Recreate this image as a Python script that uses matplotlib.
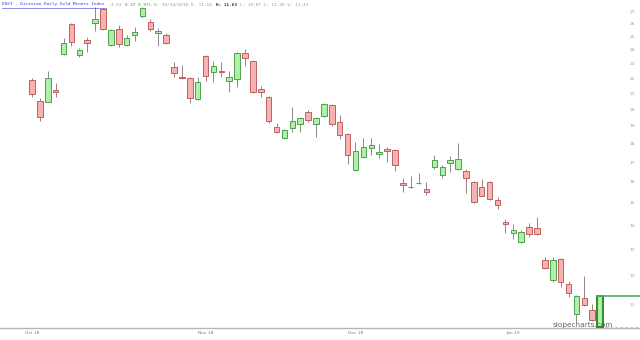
import numpy as np
import matplotlib.pyplot as plt
from matplotlib.lines import Line2D
from matplotlib.ticker import NullLocator

# daily OHLC (oldest first)
opens = [21.87, 20.50, 20.44, 21.21, 23.69, 25.97, 23.61, 24.72, 26.05, 27.19,
         24.35, 25.57, 24.35, 25.10, 26.60, 26.12, 25.26, 25.10, 22.76, 22.07,
         22.00, 20.60, 23.54, 22.41, 22.45, 21.80, 21.94, 23.76, 23.18, 21.27,
         20.76, 18.93, 18.30, 18.87, 19.11, 19.82, 19.11, 19.58, 20.25, 19.22,
         18.53, 16.59, 17.27, 17.75, 17.43, 17.70, 17.64, 15.94, 15.77, 15.96,
         15.65, 16.75, 16.34, 16.95, 16.64, 16.54, 16.00, 15.75, 16.00, 15.13,
         14.15, 13.68, 13.31, 13.93, 13.89, 12.59, 11.84, 12.63, 11.70, 10.67,
         11.20, 10.80, 10.25]
highs = [22.00, 20.69, 22.48, 21.67, 24.87, 26.05, 24.13, 24.95, 27.36, 27.27,
         25.57, 25.89, 25.10, 25.73, 27.36, 26.37, 25.65, 25.26, 23.11, 22.90,
         22.07, 22.07, 23.61, 23.18, 23.11, 22.48, 23.80, 24.05, 23.25, 21.47,
         20.85, 19.17, 18.80, 20.13, 19.50, 19.95, 19.50, 20.35, 20.30, 19.64,
         18.58, 18.08, 18.30, 18.30, 17.97, 17.81, 17.70, 16.19, 16.29, 16.44,
         16.00, 17.37, 16.85, 17.32, 18.03, 16.64, 16.05, 16.14, 16.05, 15.27,
         14.28, 14.06, 13.80, 14.10, 14.37, 12.71, 12.71, 12.66, 11.80, 11.30,
         12.00, 11.00, 11.30]
lows = [20.76, 19.28, 20.44, 20.76, 23.61, 24.27, 23.47, 23.84, 25.41, 25.49,
        24.27, 24.20, 24.27, 24.65, 26.45, 25.41, 24.27, 24.42, 22.07, 21.94,
        20.38, 20.57, 21.80, 21.73, 22.07, 21.08, 21.40, 22.83, 21.00, 20.76,
        19.17, 18.59, 18.25, 18.64, 18.64, 19.22, 18.36, 19.52, 18.99, 18.25,
        16.90, 16.55, 17.22, 17.37, 17.22, 17.00, 16.54, 15.51, 15.70, 15.89,
        15.37, 16.64, 16.19, 16.49, 16.60, 15.46, 14.99, 15.30, 15.15, 14.72,
        13.68, 13.43, 13.27, 13.50, 13.60, 12.25, 11.77, 11.59, 11.24, 10.41,
        10.95, 10.45, 10.10]
closes = [20.95, 19.52, 22.00, 21.08, 24.50, 24.57, 23.98, 24.50, 26.37, 25.57,
          25.49, 24.42, 24.87, 25.33, 27.27, 25.57, 25.41, 24.50, 22.34, 22.00,
          20.69, 21.73, 22.14, 22.83, 22.41, 22.07, 23.76, 23.40, 21.08, 21.08,
          19.28, 18.64, 18.76, 19.28, 19.46, 19.34, 19.46, 20.31, 19.11, 18.47,
          17.37, 17.59, 17.81, 17.92, 17.54, 17.59, 16.85, 15.84, 15.75, 15.94,
          15.51, 17.11, 16.75, 17.11, 17.16, 16.19, 15.04, 15.32, 15.18, 14.90,
          14.06, 13.80, 13.72, 13.63, 13.63, 12.28, 12.59, 11.77, 11.37, 11.27,
          10.97, 10.48, 11.28]

month_pos = [0, 22, 41, 61]
month_labels = ["Oct 18", "Nov 18", "Dec 18", "Jan 19"]
price_ticks = list(range(11, 28))

up_fill, up_edge = '#aef0a6', '#4f9f4f'
dn_fill, dn_edge = '#f5b2b0', '#c06060'

fig = plt.figure(figsize=(6.4, 3.4), dpi=100)
ax = fig.add_axes([0, 12/340, 1, 328/340])
ax.set_yscale('log')
ax.set_ylim(10.22, 27.95)
step = 7.89
ax.set_xlim(-32/step, (640-32)/step)

n = len(opens)
x = np.arange(n)
o = np.array(opens); h = np.array(highs); l = np.array(lows); c = np.array(closes)
up = c >= o

for i in range(n - 1):
    fill = up_fill if up[i] else dn_fill
    edge = up_edge if up[i] else dn_edge
    ax.vlines(x[i], l[i], h[i], color='#8a8a8a' if up[i] else '#a08080', lw=0.7, zorder=1)
    lo, hi = min(o[i], c[i]), max(o[i], c[i])
    ax.bar(x[i], max(hi - lo, 0.02), bottom=lo, width=0.7, color=fill,
           edgecolor=edge, linewidth=0.7, zorder=2)

# live candle
k = n - 1
ax.vlines(x[k], l[k], h[k], color=up_edge, lw=0.8, zorder=1)
ax.bar(x[k], c[k] - o[k], bottom=o[k], width=0.7, color=up_fill,
       edgecolor='#2f8a2f', linewidth=1.4, zorder=3)
ax.plot([x[k] - 0.35, 80], [c[k], c[k]], color='#4fb04f', lw=1.2, zorder=3)
ax.plot([x[k], 80], [o[k], o[k]], color='#a8d0a8', lw=0.6, ls=(0, (3, 3)), zorder=1)

ax.yaxis.set_minor_locator(NullLocator())
ax.set_yticks(price_ticks, [str(t) for t in price_ticks])
ax.yaxis.tick_right()
ax.tick_params(axis='y', length=0, pad=-7.6, labelsize=3.2, labelcolor='#9a9aaa')
ax.set_xticks(month_pos, month_labels)
ax.tick_params(axis='x', length=0, pad=2.5, labelsize=3.2, labelcolor='#6a7a9a')

for s in ['top', 'left', 'right']:
    ax.spines[s].set_visible(False)
ax.spines['bottom'].set_color('#b5b5b5')
ax.spines['bottom'].set_linewidth(1.0)

# header line
mono = 'DejaVu Sans Mono'
cw = 2.67 / 640
title = "DUST - Direxion Daily Gold Miners Index"
ty = 1 - 4.5/340
fig.text(2/640, ty, title, fontsize=3.2, family=mono, color='#3a3ad0', va='center')
fig.add_artist(Line2D([2/640, 2/640 + len(title)*cw], [ty - 3/340, ty - 3/340],
                      color='#3a3ad0', lw=0.4))
x0 = 2/640 + (len(title) + 2) * cw
parts = [("4.63 ", '#999999'), ("0.37 8.97% ", '#3aa03a'),
         ("D: 10/14/2018 O: 11.16 ", '#999999'), ("H: 11.63 ", '#333333'),
         ("L: 10.87 C: 11.30 V: 11.43", '#999999')]
for txt, col in parts:
    fig.text(x0, ty, txt, fontsize=3.2, family=mono, color=col, va='center',
             weight='bold' if col == '#333333' else 'normal')
    x0 += len(txt) * cw

fig.text(583/640, 1 - 325.5/340, "slopecharts.com", fontsize=5.3, color='#666666',
         ha='center', va='center')

fig.savefig('out.png', dpi=100)
